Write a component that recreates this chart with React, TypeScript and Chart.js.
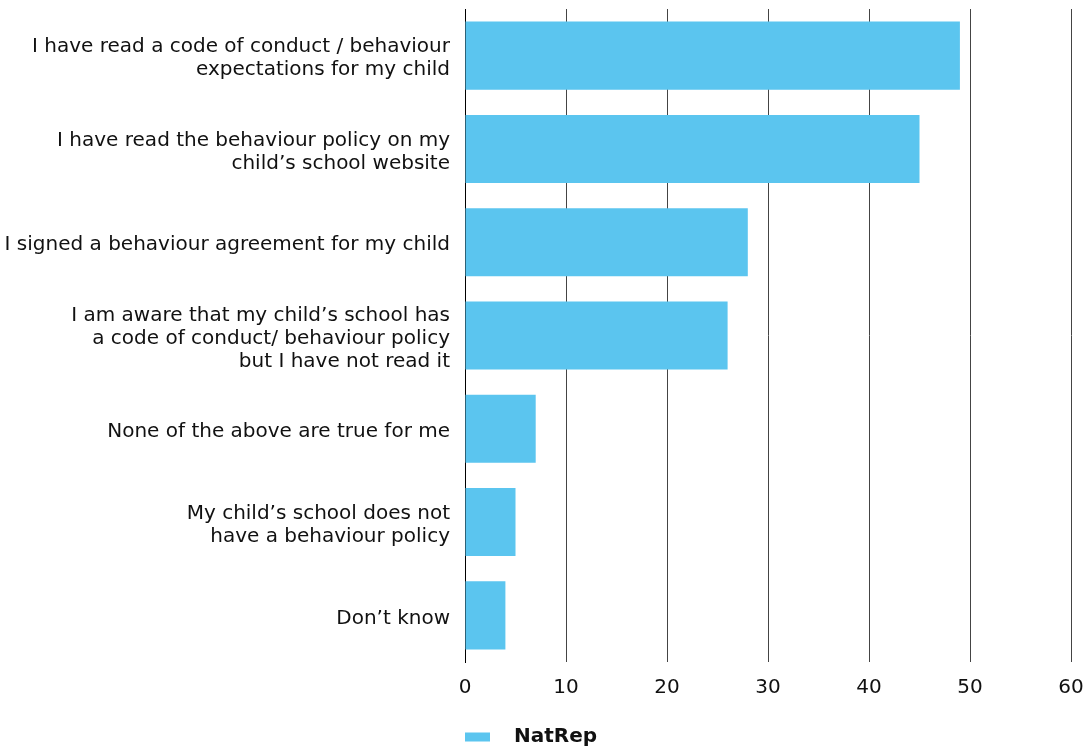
import React, { useEffect, useRef } from "react";
import { Chart, registerables } from "chart.js";

Chart.register(...registerables);

const categories: (string | string[])[] = [
  ["I have read a code of conduct / behaviour", "expectations for my child"],
  ["I have read the behaviour policy on my", "child’s school website"],
  "I signed a behaviour agreement for my child",
  ["I am aware that my child’s school has", "a code of conduct/ behaviour policy", "but I have not read it"],
  "None of the above are true for me",
  ["My child’s school does not", "have a behaviour policy"],
  "Don’t know",
];

const natRepValues = [49, 45, 28, 26, 7, 5, 4];
const seriesName = "NatRep";
const seriesColor = "#5BC5EF";
const xMin = 0;
const xMax = 60;
const xStep = 10;

const FONT = "'DejaVu Sans', sans-serif";

const customLegend = {
  id: "customLegend",
  afterDraw(chart: any) {
    const { ctx, chartArea } = chart;
    const ds = chart.data.datasets[0];
    const y = 737;
    ctx.save();
    ctx.fillStyle = ds.backgroundColor;
    ctx.fillRect(chartArea.left, y - 4.5, 25, 9);
    ctx.fillStyle = "#111";
    ctx.font = `bold 20px ${FONT}`;
    ctx.textBaseline = "middle";
    ctx.textAlign = "left";
    ctx.fillText(ds.label, chartArea.left + 49, y);
    ctx.restore();
  },
};

export default function App() {
  const ref = useRef<HTMLCanvasElement | null>(null);

  useEffect(() => {
    if (!ref.current) return;
    const chart = new Chart(ref.current, {
      type: "bar",
      data: {
        labels: categories,
        datasets: [
          {
            label: seriesName,
            data: natRepValues,
            backgroundColor: seriesColor,
            borderWidth: 0,
            barPercentage: 0.73,
            categoryPercentage: 1,
          },
        ],
      },
      options: {
        indexAxis: "y",
        animation: false,
        responsive: false,
        layout: { padding: { top: 9, right: 17, bottom: 49, left: 0 } },
        scales: {
          x: {
            min: xMin,
            max: xMax,
            ticks: {
              stepSize: xStep,
              color: "#111",
              font: { family: FONT, size: 20 },
              padding: 14,
            },
            grid: {
              color: (ctx: any) => (ctx.index === 0 ? "#000" : "#444"),
              lineWidth: 1,
              drawTicks: false,
            },
            border: { display: false },
            afterFit: (scale: any) => {
              scale.height = 38;
              scale.paddingLeft = 0;
              scale.paddingRight = 0;
            },
          },
          y: {
            z: 1,
            ticks: {
              color: "#111",
              font: { family: FONT, size: 20, lineHeight: "23px" },
              padding: 15,
              labelOffset: 3,
              crossAlign: "near",
            },
            grid: { display: false, drawTicks: false },
            border: { display: true, color: "#000", width: 1 },
            afterFit: (scale: any) => {
              scale.width = 465;
              scale.paddingTop = 0;
              scale.paddingBottom = 0;
            },
          },
        },
        plugins: {
          legend: { display: false },
          tooltip: { enabled: false },
        },
      },
      plugins: [customLegend],
    });
    return () => chart.destroy();
  }, []);

  return (
    <div style={{ position: "absolute", left: 0, top: 0, width: 1088, height: 749, background: "#fff" }}>
      <canvas ref={ref} width={1088} height={749} style={{ width: 1088, height: 749, display: "block" }} />
    </div>
  );
}
